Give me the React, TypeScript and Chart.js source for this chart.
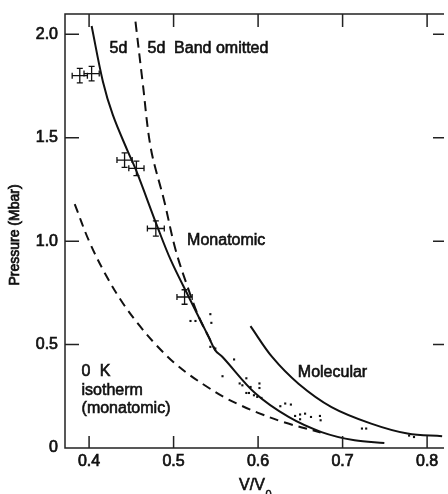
import React, { useEffect, useRef } from "react";
import { Chart, registerables } from "chart.js";

Chart.register(...registerables);

// ---- tick values / labels ----
const xTicks = [0.4, 0.5, 0.6, 0.7, 0.8];
const xTickLabels = ["0.4", "0.5", "0.6", "0.7", "0.8"];
const yTicks = [0, 0.5, 1.0, 1.5, 2.0];
const yTickLabels = ["0", "0.5", "1.0", "1.5", "2.0"];

// ---- curves ----
const monatomicX = [0.403, 0.4164, 0.4281, 0.4457, 0.4556, 0.4809, 0.4966, 0.518, 0.5415, 0.5494, 0.5579, 0.597, 0.6361, 0.6751, 0.7142, 0.7494];
const monatomicY = [2.04, 1.771, 1.61, 1.435, 1.343, 1.069, 0.909, 0.73, 0.537, 0.472, 0.44, 0.263, 0.15, 0.077, 0.037, 0.024];

const bandOmittedX = [0.4549, 0.4633, 0.4731, 0.4887, 0.5025, 0.518, 0.5298, 0.5415, 0.5494];
const bandOmittedY = [2.061, 1.771, 1.448, 1.198, 0.956, 0.762, 0.634, 0.537, 0.472];

const isothermX = [0.383, 0.4, 0.42, 0.44, 0.46, 0.48, 0.5, 0.52, 0.54, 0.56, 0.58, 0.6, 0.63, 0.674];
const isothermY = [1.179, 1.0, 0.835, 0.7, 0.59, 0.495, 0.415, 0.35, 0.295, 0.245, 0.205, 0.17, 0.125, 0.075];

const molecularX = [0.591, 0.6166, 0.6478, 0.6869, 0.7338, 0.7768, 0.8178];
const molecularY = [0.589, 0.44, 0.311, 0.198, 0.118, 0.07, 0.057];

// ---- experimental points with error bars ----
const expX = [0.389, 0.403, 0.442, 0.456, 0.479, 0.513];
const expY = [1.80, 1.81, 1.392, 1.352, 1.061, 0.73];
const expErrX = [0.009, 0.009, 0.009, 0.009, 0.01, 0.009];
const expErrY = [0.035, 0.035, 0.035, 0.035, 0.037, 0.035];

// ---- scattered dots ----
const dotsX = [0.52, 0.5259, 0.5435, 0.5447, 0.5435, 0.5494, 0.5716, 0.5579, 0.5861, 0.5782, 0.5814, 0.5911, 0.6016, 0.6016, 0.5861, 0.5892, 0.5951, 0.599, 0.604, 0.6263, 0.6321, 0.6388, 0.6438, 0.6497, 0.6497, 0.6556, 0.6626, 0.6732, 0.674, 0.7229, 0.7279, 0.7787, 0.7845];
const dotsY = [0.614, 0.614, 0.647, 0.605, 0.489, 0.481, 0.428, 0.347, 0.337, 0.312, 0.303, 0.295, 0.312, 0.29, 0.266, 0.266, 0.255, 0.247, 0.242, 0.202, 0.215, 0.21, 0.155, 0.162, 0.139, 0.166, 0.15, 0.155, 0.134, 0.094, 0.094, 0.06, 0.053];

// ---- text annotations (anchored in data coordinates) ----
const noteTexts = ["5d", "5d", "Band omitted", "Monatomic", "Molecular", "0", "K", "isotherm", "(monatomic)"];
const noteX = [0.4243, 0.4692, 0.5006, 0.516, 0.647, 0.3911, 0.4125, 0.3911, 0.3911];
const noteY = [1.93, 1.93, 1.93, 1.005, 0.363, 0.368, 0.368, 0.279, 0.19];

const FONT = "'Liberation Sans', Arial, Helvetica, sans-serif";
const INK = "#111";

const zip = (xs: number[], ys: number[]) => xs.map((x, i) => ({ x, y: ys[i] }));

const boldText = (ctx: CanvasRenderingContext2D, t: string, x: number, y: number, w = 0.6) => {
  ctx.fillText(t, x, y);
  ctx.lineWidth = w;
  ctx.strokeStyle = INK;
  ctx.strokeText(t, x, y);
};

const framePlugin = {
  id: "frame",
  afterDatasetsDraw(chart: any) {
    const { ctx, scales } = chart;
    const sx = scales.x;
    const sy = scales.y;
    ctx.save();
    ctx.strokeStyle = INK;
    ctx.lineWidth = 1.3;
    expX.forEach((xv, i) => {
      const cx = sx.getPixelForValue(xv);
      const cy = sy.getPixelForValue(expY[i]);
      const x0 = sx.getPixelForValue(xv - expErrX[i]);
      const x1 = sx.getPixelForValue(xv + expErrX[i]);
      const y0 = sy.getPixelForValue(expY[i] - expErrY[i]);
      const y1 = sy.getPixelForValue(expY[i] + expErrY[i]);
      const c = 3;
      ctx.beginPath();
      ctx.moveTo(x0, cy); ctx.lineTo(x1, cy);
      ctx.moveTo(cx, y0); ctx.lineTo(cx, y1);
      ctx.moveTo(x0, cy - c); ctx.lineTo(x0, cy + c);
      ctx.moveTo(x1, cy - c); ctx.lineTo(x1, cy + c);
      ctx.moveTo(cx - c, y0); ctx.lineTo(cx + c, y0);
      ctx.moveTo(cx - c, y1); ctx.lineTo(cx + c, y1);
      ctx.stroke();
    });
    ctx.restore();
  },
  afterDraw(chart: any) {
    const { ctx, chartArea: a, scales } = chart;
    const sx = scales.x;
    const sy = scales.y;
    ctx.save();
    ctx.strokeStyle = "#222";
    ctx.lineWidth = 1.5;
    ctx.beginPath();
    ctx.moveTo(a.right, a.top);
    ctx.lineTo(a.left, a.top);
    ctx.lineTo(a.left, a.bottom);
    ctx.lineTo(a.right, a.bottom);
    xTicks.forEach((v) => {
      const px = sx.getPixelForValue(v);
      ctx.moveTo(px, a.bottom); ctx.lineTo(px, a.bottom - 12);
      ctx.moveTo(px, a.top); ctx.lineTo(px, a.top + 13);
    });
    yTicks.forEach((v) => {
      if (v === 0) return;
      const py = sy.getPixelForValue(v);
      ctx.moveTo(a.left, py); ctx.lineTo(a.left + 14, py);
      ctx.moveTo(a.right, py); ctx.lineTo(a.right - 11, py);
    });
    ctx.stroke();

    ctx.fillStyle = INK;
    ctx.font = `16px ${FONT}`;
    ctx.textAlign = "left";
    ctx.textBaseline = "middle";
    noteTexts.forEach((t, i) => {
      boldText(ctx, t, sx.getPixelForValue(noteX[i]), sy.getPixelForValue(noteY[i]));
    });

    ctx.font = `14px ${FONT}`;
    ctx.save();
    ctx.translate(15, (a.top + a.bottom) / 2 + 4);
    ctx.rotate(-Math.PI / 2);
    ctx.textAlign = "center";
    ctx.textBaseline = "middle";
    boldText(ctx, "Pressure (Mbar)", 0, 0, 0.7);
    ctx.restore();

    const midX = sx.getPixelForValue(0.6) - 19;
    ctx.textAlign = "left";
    ctx.textBaseline = "alphabetic";
    ctx.font = `16px ${FONT}`;
    boldText(ctx, "V/V", midX, a.bottom + 42);
    const w = ctx.measureText("V/V").width;
    ctx.font = `11px ${FONT}`;
    boldText(ctx, "0", midX + w + 0.5, a.bottom + 50, 0.5);
    ctx.restore();
  },
};

export default function App() {
  const ref = useRef<HTMLCanvasElement | null>(null);
  useEffect(() => {
    if (!ref.current) return;
    const lineDs = (label: string, xs: number[], ys: number[], dash: number[]) => ({
      label,
      data: zip(xs, ys),
      showLine: true,
      borderColor: INK,
      borderWidth: 2,
      borderDash: dash,
      pointRadius: 0,
      tension: 0.35,
      fill: false,
    });
    const tickFont = { family: FONT, size: 16 };
    const chart = new Chart(ref.current, {
      type: "scatter",
      data: {
        datasets: [
          lineDs("Monatomic", monatomicX, monatomicY, []),
          lineDs("5d Band omitted", bandOmittedX, bandOmittedY, [10, 6]),
          lineDs("0 K isotherm (monatomic)", isothermX, isothermY, [9, 6]),
          lineDs("Molecular", molecularX, molecularY, []),
          {
            label: "Data",
            data: zip(dotsX, dotsY),
            showLine: false,
            pointRadius: 1.5,
            pointStyle: "rect",
            backgroundColor: INK,
            borderColor: INK,
            borderWidth: 0,
          },
          {
            label: "Points",
            data: zip(expX, expY),
            showLine: false,
            pointRadius: 0,
          },
        ],
      },
      options: {
        responsive: false,
        animation: false,
        devicePixelRatio: 1,
        layout: { padding: { top: 14, left: 0, right: 0, bottom: 0 } },
        plugins: { legend: { display: false }, tooltip: { enabled: false } },
        scales: {
          x: {
            type: "linear",
            min: 0.3715,
            max: 0.82,
            afterBuildTicks: (s: any) => {
              s.ticks = xTicks.map((v) => ({ value: v }));
            },
            afterFit: (s: any) => {
              s.height = 46;
              s.paddingLeft = 0;
              s.paddingRight = 0;
            },
            grid: { display: false, drawTicks: false },
            border: { display: false },
            ticks: {
              padding: 4,
              color: INK,
              textStrokeColor: INK,
              textStrokeWidth: 0.7,
              font: tickFont,
              callback: (v: any) => {
                const i = xTicks.findIndex((t) => Math.abs(t - Number(v)) < 1e-6);
                return i >= 0 ? xTickLabels[i] : "";
              },
            },
          },
          y: {
            type: "linear",
            min: 0,
            max: 2.098,
            afterBuildTicks: (s: any) => {
              s.ticks = yTicks.map((v) => ({ value: v }));
            },
            afterFit: (s: any) => {
              s.width = 65;
              s.paddingTop = 0;
              s.paddingBottom = 0;
            },
            grid: { display: false, drawTicks: false },
            border: { display: false },
            ticks: {
              padding: 7,
              color: INK,
              textStrokeColor: INK,
              textStrokeWidth: 0.7,
              font: tickFont,
              callback: (v: any) => {
                const i = yTicks.findIndex((t) => Math.abs(t - Number(v)) < 1e-6);
                return i >= 0 ? yTickLabels[i] : "";
              },
            },
          },
        },
      },
      plugins: [framePlugin],
    } as any);
    return () => chart.destroy();
  }, []);
  return (
    <div style={{ position: "absolute", left: 0, top: 0, width: 448, height: 494, background: "#fff" }}>
      <canvas ref={ref} width={448} height={494} style={{ width: 448, height: 494, display: "block" }} />
    </div>
  );
}
